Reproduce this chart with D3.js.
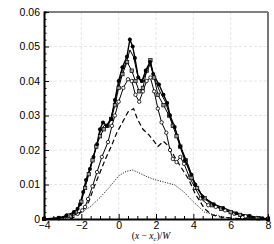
<!DOCTYPE html>
<html>
<head>
<meta charset="utf-8">
<script src="https://cdn.jsdelivr.net/npm/d3@7"></script>
<style>
  body { margin: 0; background: #fff; }
  svg { display: block; font-family: "Liberation Sans", Arial, sans-serif; }
</style>
</head>
<body>
<div id="chart"></div>
<script>
// series, [x, y] pairs
const filledCircles = [[-4,0],[-3.2,0.0003],[-2.8,0.001],[-2.4,0.002],[-2.2,0.003],[-2.07,0.0043],[-1.9,0.0078],[-1.75,0.0113],[-1.54,0.0145],[-1.35,0.018],[-1.16,0.0217],[-1.0,0.026],[-0.84,0.028],[-0.63,0.027],[-0.4,0.029],[-0.2,0.0345],[0,0.040],[0.2,0.044],[0.44,0.047],[0.6,0.052],[0.75,0.050],[0.87,0.0467],[1.05,0.041],[1.25,0.040],[1.45,0.043],[1.68,0.0455],[1.85,0.042],[2.16,0.039],[2.4,0.036],[2.6,0.0336],[2.75,0.030],[3.0,0.0267],[3.3,0.021],[3.55,0.017],[3.9,0.0128],[4.1,0.010],[4.5,0.0064],[5.1,0.0043],[5.6,0.0032],[6.3,0.0017],[7.0,0.0009],[7.7,0.0002],[8,0]];
const plainLine = [[-4,0],[-3.0,0.0004],[-2.5,0.0012],[-2.2,0.0025],[-2.0,0.0055],[-1.8,0.0095],[-1.6,0.0135],[-1.4,0.0175],[-1.2,0.021],[-1.0,0.025],[-0.8,0.027],[-0.6,0.0275],[-0.4,0.0295],[-0.2,0.034],[0,0.039],[0.2,0.043],[0.45,0.046],[0.6,0.049],[0.8,0.047],[1.0,0.042],[1.2,0.0395],[1.45,0.042],[1.7,0.045],[1.9,0.041],[2.2,0.037],[2.5,0.034],[2.8,0.029],[3.1,0.025],[3.4,0.020],[3.7,0.016],[4.0,0.0115],[4.4,0.0075],[4.9,0.0048],[5.5,0.003],[6.2,0.0015],[7.0,0.0006],[8,0]];
const graySquares = [[-4,0],[-3.2,0.0003],[-2.7,0.001],[-2.3,0.002],[-2.0,0.005],[-1.8,0.009],[-1.6,0.013],[-1.4,0.017],[-1.2,0.021],[-1.0,0.024],[-0.8,0.026],[-0.6,0.027],[-0.4,0.029],[-0.2,0.033],[0,0.038],[0.2,0.042],[0.45,0.0455],[0.7,0.043],[0.9,0.040],[1.1,0.037],[1.3,0.038],[1.5,0.043],[1.7,0.046],[1.9,0.041],[2.1,0.036],[2.4,0.033],[2.7,0.030],[2.9,0.027],[3.1,0.024],[3.3,0.021],[3.6,0.017],[3.9,0.012],[4.2,0.009],[4.6,0.006],[5.0,0.004],[5.5,0.003],[6.0,0.002],[6.5,0.0012],[7.0,0.0007],[7.5,0.0002],[8,0]];
const openCircles = [[-4,0],[-3.2,0.0002],[-2.6,0.0008],[-2.2,0.0015],[-1.95,0.0025],[-1.8,0.0035],[-1.64,0.0058],[-1.4,0.0095],[-1.16,0.0136],[-0.9,0.018],[-0.57,0.0223],[-0.36,0.027],[-0.2,0.030],[0,0.034],[0.25,0.038],[0.5,0.0405],[0.7,0.040],[0.9,0.036],[1.1,0.034],[1.3,0.037],[1.5,0.040],[1.7,0.041],[1.9,0.037],[2.1,0.032],[2.3,0.028],[2.55,0.025],[2.75,0.020],[2.9,0.0174],[3.1,0.0165],[3.3,0.018],[3.5,0.016],[3.8,0.012],[4.1,0.009],[4.4,0.006],[4.8,0.004],[5.2,0.0035],[5.7,0.0025],[6.2,0.0015],[6.8,0.0008],[7.4,0.0003],[8,0]];
const dashed = [[-2.6,0],[-2.4,0.0005],[-2.0,0.002],[-1.6,0.005],[-1.3,0.0095],[-1.0,0.0135],[-0.7,0.0175],[-0.4,0.021],[-0.1,0.025],[0.2,0.028],[0.5,0.031],[0.8,0.032],[1.0,0.029],[1.3,0.026],[1.6,0.0245],[1.9,0.0225],[2.1,0.021],[2.4,0.0225],[2.7,0.021],[3.0,0.018],[3.4,0.0145],[3.77,0.0113],[4.1,0.0073],[4.6,0.003],[5.0,0.0012],[5.5,0.0005],[6.5,0.0001],[8,0]];
const dotted = [[-3,0],[-2.5,0.0006],[-2.0,0.002],[-1.5,0.0036],[-1.0,0.0062],[-0.5,0.0092],[0,0.0125],[0.4,0.0138],[0.75,0.0142],[1.0,0.0136],[1.5,0.0123],[2.0,0.0113],[2.5,0.0106],[3.0,0.0099],[3.5,0.0078],[4.0,0.005],[4.6,0.002],[5.3,0.001],[6,0.0002],[7,0]];

const xTicks = [-4, -2, 0, 2, 4, 6, 8];
const yTicks = [0, 0.01, 0.02, 0.03, 0.04, 0.05, 0.06];
const yTickLabels = ["0", "0.01", "0.02", "0.03", "0.04", "0.05", "0.06"];

const W = 274, H = 244;
const margin = { top: 12, right: 6, bottom: 25, left: 44 };
const width = W - margin.left - margin.right;
const height = H - margin.top - margin.bottom;

const svg = d3.select("#chart").append("svg")
  .attr("width", W)
  .attr("height", H);
const g = svg.append("g")
  .attr("transform", `translate(${margin.left},${margin.top})`);

const x = d3.scaleLinear().domain([-4, 8]).range([0, width]);
const y = d3.scaleLinear().domain([0, 0.06]).range([height, 0]);

// grid
g.append("g").selectAll("line").data(xTicks.slice(1, -1)).enter().append("line")
  .attr("x1", d => x(d)).attr("x2", d => x(d))
  .attr("y1", 0).attr("y2", height)
  .attr("stroke", "#e6e6e6").attr("stroke-dasharray", "3,2");
g.append("g").selectAll("line").data(yTicks.slice(1, -1)).enter().append("line")
  .attr("x1", 0).attr("x2", width)
  .attr("y1", d => y(d)).attr("y2", d => y(d))
  .attr("stroke", "#e6e6e6").attr("stroke-dasharray", "3,2");

// curves
const line = d3.line().x(d => x(d[0])).y(d => y(d[1]));
function drawLine(data, dash, w) {
  g.append("path").datum(data)
    .attr("d", line)
    .attr("fill", "none")
    .attr("stroke", "#000")
    .attr("stroke-width", w)
    .attr("stroke-dasharray", dash);
}
drawLine(dotted, "1,1.5", 1);
drawLine(dashed, "5,3", 1.2);
drawLine(openCircles, null, 1);
drawLine(graySquares, null, 1);
drawLine(plainLine, null, 1);
drawLine(filledCircles, null, 1.4);

g.append("g").selectAll("circle").data(openCircles).enter().append("circle")
  .attr("cx", d => x(d[0])).attr("cy", d => y(d[1])).attr("r", 1.7)
  .attr("fill", "#fff").attr("stroke", "#000").attr("stroke-width", 0.8);
g.append("g").selectAll("rect").data(graySquares).enter().append("rect")
  .attr("x", d => x(d[0]) - 1.7).attr("y", d => y(d[1]) - 1.7)
  .attr("width", 3.4).attr("height", 3.4)
  .attr("fill", "#999").attr("stroke", "#000").attr("stroke-width", 0.7);
g.append("g").selectAll("circle").data(filledCircles).enter().append("circle")
  .attr("cx", d => x(d[0])).attr("cy", d => y(d[1])).attr("r", 2)
  .attr("fill", "#000");

// frame
g.append("line").attr("x1", 0).attr("x2", width).attr("y1", 0).attr("y2", 0)
  .attr("stroke", "#000").attr("stroke-width", 1);
g.append("line").attr("x1", width).attr("x2", width).attr("y1", 0).attr("y2", height)
  .attr("stroke", "#777").attr("stroke-width", 2);

// axes, ticks pointing inwards
const xAxis = g.append("g").attr("transform", `translate(0,${height})`)
  .call(d3.axisBottom(x).tickValues(d3.range(-4, 8.01, 0.5)).tickSize(-3).tickFormat(""));
xAxis.selectAll(".tick line").filter(d => d % 2 === 0).attr("y2", -5);
const xLab = g.append("g").attr("transform", `translate(0,${height})`)
  .call(d3.axisBottom(x).tickValues(xTicks).tickSize(0).tickPadding(3));
xLab.select(".domain").remove();
xLab.selectAll("text").attr("font-size", 10.5).attr("font-family", "Liberation Sans, Arial, sans-serif");

const yAxis = g.append("g")
  .call(d3.axisLeft(y).tickValues(d3.range(0, 0.0601, 0.002)).tickSize(-2.5).tickFormat(""));
yAxis.selectAll(".tick line").filter((d, i) => i % 5 === 0).attr("x2", 5);
const yLab = g.append("g")
  .call(d3.axisLeft(y).tickValues(yTicks).tickSize(0).tickPadding(4)
    .tickFormat((d, i) => yTickLabels[i]));
yLab.select(".domain").remove();
yLab.selectAll("text").attr("font-size", 10.5).attr("font-family", "Liberation Sans, Arial, sans-serif");

[xAxis, yAxis].forEach(a => {
  a.select(".domain").attr("stroke-width", 2).attr("stroke", "#000");
  a.selectAll(".tick line").attr("stroke", "#000");
});

// axis title
const t = svg.append("text")
  .attr("x", 151).attr("y", 239)
  .attr("text-anchor", "middle")
  .attr("font-family", "Liberation Serif, serif")
  .attr("font-size", 9.5);
t.append("tspan").text("(");
t.append("tspan").attr("font-style", "italic").text("x");
t.append("tspan").text(" − ");
t.append("tspan").attr("font-style", "italic").text("x");
t.append("tspan").attr("font-style", "italic").attr("font-size", 6.5).attr("dy", 1.5).text("c");
t.append("tspan").attr("dy", -1.5).text(")/");
t.append("tspan").attr("font-style", "italic").text("W");
</script>
</body>
</html>
